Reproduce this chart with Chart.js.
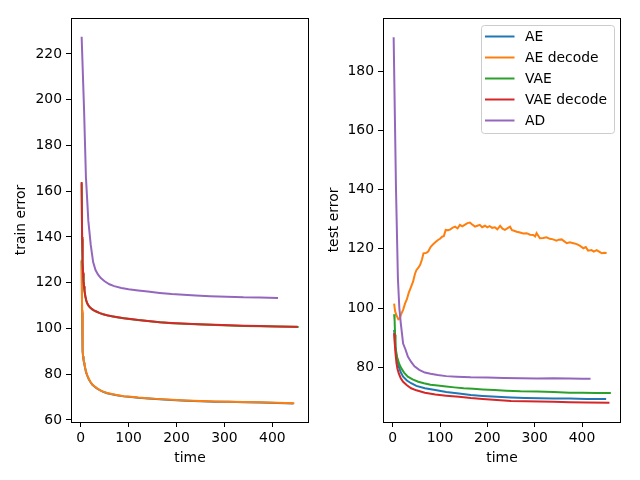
<!DOCTYPE html>
<html>
<head>
<meta charset="utf-8">
<script src="https://cdn.jsdelivr.net/npm/chart.js@4.4.1/dist/chart.umd.min.js"></script>
<style>
html,body{margin:0;padding:0;background:#fff;width:640px;height:480px;overflow:hidden}
canvas{position:absolute;left:0;top:0}
</style>
</head>
<body>
<canvas id="train" width="640" height="480"></canvas>
<canvas id="test" width="640" height="480"></canvas>
<script>
// ---------- labels / colours ----------
const seriesLabels = ['AE', 'AE decode', 'VAE', 'VAE decode', 'AD'];
const seriesColors = ['#1f77b4', '#ff7f0e', '#2ca02c', '#d62728', '#9467bd'];
const xTitle = 'time';
const trainTitle = 'train error';
const testTitle = 'test error';

// ---------- tick labels ----------
const trainTicksX = [0, 100, 200, 300, 400];
const trainTicksY = [60, 80, 100, 120, 140, 160, 180, 200, 220];
const testTicksX = [0, 100, 200, 300, 400];
const testTicksY = [80, 100, 120, 140, 160, 180];

// ---------- train (left panel) ----------
const trainAE_t   = [2, 3, 4, 5, 6, 7, 8, 10, 12, 14, 17, 20, 24, 28, 33, 40, 47, 55, 65, 75, 90, 105, 120, 140, 165, 190, 220, 250, 280, 310, 340, 374, 410, 444];
const trainAE     = [129.5, 107, 90, 87.7, 86.2, 85.0, 84.0, 82.0, 80.5, 79.3, 77.8, 76.7, 75.5, 74.7, 73.9, 73.0, 72.3, 71.7, 71.2, 70.8, 70.3, 70.0, 69.7, 69.4, 69.0, 68.7, 68.4, 68.2, 68.0, 67.9, 67.7, 67.6, 67.4, 67.2];
const trainAEdec_t = [2, 3, 4, 5, 6, 7, 8, 10, 12, 14, 17, 20, 24, 28, 33, 40, 47, 55, 65, 75, 90, 105, 120, 140, 165, 190, 220, 250, 280, 310, 340, 374, 410, 446];
const trainAEdec   = [130, 108, 90.5, 88, 86.5, 85.2, 84.2, 82.2, 80.6, 79.4, 77.9, 76.8, 75.6, 74.8, 74.0, 73.0, 72.4, 71.8, 71.3, 70.9, 70.4, 70.1, 69.8, 69.5, 69.1, 68.8, 68.5, 68.3, 68.1, 68.0, 67.8, 67.7, 67.5, 67.3];
const trainVAE_t  = [2, 3, 4, 5, 6, 7, 8, 10, 12, 14, 17, 20, 24, 28, 33, 40, 47, 55, 65, 75, 90, 105, 120, 140, 165, 190, 220, 250, 280, 310, 340, 374, 410, 455];
const trainVAE    = [163.5, 139, 128.5, 124, 120.7, 118.2, 116.3, 113.6, 111.9, 110.8, 109.7, 109.0, 108.3, 107.8, 107.3, 106.7, 106.2, 105.7, 105.3, 104.9, 104.5, 104.0, 103.7, 103.2, 102.7, 102.3, 102.0, 101.7, 101.5, 101.3, 101.1, 101.0, 100.8, 100.6];
const trainVAEdec_t = [2, 3, 4, 5, 6, 7, 8, 10, 12, 14, 17, 20, 24, 28, 33, 40, 47, 55, 65, 75, 90, 105, 120, 140, 165, 190, 220, 250, 280, 310, 340, 374, 410, 453];
const trainVAEdec   = [164, 140, 129, 124.5, 121, 118.5, 116.5, 113.8, 112, 110.9, 109.8, 109.1, 108.4, 107.9, 107.4, 106.7, 106.2, 105.8, 105.3, 105.0, 104.5, 104.1, 103.7, 103.3, 102.7, 102.4, 102.1, 101.8, 101.6, 101.4, 101.2, 101.1, 100.9, 100.7];
const trainAD_t   = [2, 7, 11, 16, 21, 26, 31, 36, 42, 50, 60, 70, 85, 100, 120, 140, 165, 190, 215, 240, 270, 305, 340, 374, 412];
const trainAD     = [227.5, 196, 166, 147, 136.5, 129, 125.5, 123.6, 122.0, 120.6, 119.3, 118.5, 117.7, 117.1, 116.6, 116.1, 115.5, 115.0, 114.7, 114.4, 114.1, 113.9, 113.6, 113.5, 113.3];

// ---------- test (right panel) ----------
const testAE_t  = [3, 4, 6, 8, 10, 13, 17, 22, 30, 39, 50, 68, 90, 113, 140, 165, 190, 220, 250, 280, 310, 340, 374, 410, 451];
const testAE    = [92.6, 90.9, 86.5, 84.0, 82.0, 80.1, 78.3, 76.8, 75.5, 74.6, 73.7, 72.9, 72.3, 71.6, 71.1, 70.6, 70.3, 70.0, 69.8, 69.6, 69.5, 69.4, 69.4, 69.3, 69.3];
const testAEdec_t = [3, 5, 8, 12, 15, 18, 22, 26, 30, 34, 38, 43, 47, 50, 55, 58, 62, 65, 70, 75, 80, 85, 90, 95, 100, 105, 108, 112, 117, 122, 127, 132, 137, 142, 147, 152, 158, 163, 168, 174, 179, 184, 189, 195, 200, 205, 210, 216, 221, 227, 232, 237, 242, 248, 252, 255, 262, 269, 276, 283, 290, 297, 301, 304, 311, 318, 325, 332, 339, 346, 351, 357, 362, 368, 374, 382, 389, 396, 403, 408, 413, 420, 425, 431, 437, 442, 447, 452];
const testAEdec   = [101.5, 99, 97.5, 96.2, 96.5, 98.0, 99.4, 101.5, 103, 105.2, 106.8, 108.9, 111.5, 112.8, 113.8, 114.6, 116.5, 118.5, 118.6, 119.1, 120.6, 121.5, 122.2, 122.9, 123.4, 124.2, 124.3, 126.4, 126.3, 126.6, 127.2, 127.5, 126.9, 128.1, 127.6, 128.1, 128.7, 128.9, 128.2, 127.5, 127.8, 128.1, 127.3, 127.8, 127.3, 127.7, 127.1, 127.3, 126.6, 127.8, 126.8, 126.4, 126.9, 127.5, 126.3, 126.2, 125.8, 125.5, 125.2, 125.3, 124.8, 124.7, 124.2, 125.3, 123.6, 123.7, 123.9, 123.4, 123.2, 122.8, 123.1, 123.2, 122.6, 121.9, 122.2, 121.9, 121.6, 121.0, 120.2, 120.6, 119.4, 119.6, 119.1, 119.6, 119.0, 118.5, 118.7, 118.6];
const testVAE_t = [3, 4, 5, 6, 8, 10, 14, 18, 24, 32, 42, 54, 66, 80, 95, 113, 130, 150, 170, 190, 215, 240, 270, 305, 340, 374, 400, 430, 461];
const testVAE   = [97.9, 96, 91, 87, 84.5, 83, 81, 79.7, 78.2, 76.8, 75.9, 75.1, 74.6, 74.1, 73.8, 73.5, 73.2, 72.9, 72.7, 72.5, 72.3, 72.1, 71.9, 71.8, 71.6, 71.4, 71.4, 71.3, 71.3];
const testVAEdec_t = [3, 4, 6, 8, 10, 13, 17, 22, 30, 39, 50, 68, 90, 113, 140, 165, 190, 220, 250, 280, 310, 340, 374, 410, 458];
const testVAEdec   = [91.5, 88.7, 84.5, 81.4, 79.5, 77.8, 76.3, 75.1, 73.9, 72.9, 72.2, 71.4, 70.8, 70.4, 70.0, 69.6, 69.3, 68.9, 68.6, 68.5, 68.4, 68.3, 68.2, 68.1, 68.0];
const testAD_t  = [2, 7, 11, 14, 17, 22, 27, 32, 39, 46, 56, 68, 80, 95, 113, 135, 165, 200, 235, 270, 305, 340, 374, 400, 418];
const testAD    = [191.5, 140, 110, 100, 95, 88, 86, 83.6, 81.8, 80.3, 79.1, 78.2, 77.8, 77.4, 77.0, 76.8, 76.6, 76.5, 76.4, 76.3, 76.2, 76.3, 76.2, 76.1, 76.1];

// ---------- helpers ----------
const FONT = 'DejaVu Sans';
function pts(t, v) { return t.map((x, i) => ({x: x, y: v[i]})); }
function makeDatasets(list) {
  return list.map((s, i) => ({
    label: seriesLabels[i],
    data: pts(s[0], s[1]),
    borderColor: seriesColors[i],
    backgroundColor: seriesColors[i],
    borderWidth: 2,
    pointRadius: 0,
    tension: 0,
    fill: false,
    order: list.length - i
  }));
}

const framePlugin = {
  id: 'frame',
  afterDatasetsDraw(chart) {
    const {ctx, chartArea: a} = chart;
    ctx.save();
    ctx.strokeStyle = '#000';
    ctx.lineWidth = 1;
    ctx.strokeRect(Math.round(a.left) + 0.5, Math.round(a.top) + 0.5,
                   Math.round(a.right - a.left) - 1, Math.round(a.bottom - a.top));
    ctx.restore();
  }
};

const legendPlugin = {
  id: 'mplLegend',
  afterDraw(chart, args, opts) {
    if (!opts || !opts.show) return;
    const ctx = chart.ctx;
    const a = chart.chartArea;
    const n = chart.data.datasets.length;
    const rowH = 21, w = 133, h = 108;
    const x0 = a.right - 6.5 - w, y0 = a.top + 7.5;
    ctx.save();
    // frame
    const r = 3;
    ctx.beginPath();
    ctx.moveTo(x0 + r, y0);
    ctx.lineTo(x0 + w - r, y0); ctx.quadraticCurveTo(x0 + w, y0, x0 + w, y0 + r);
    ctx.lineTo(x0 + w, y0 + h - r); ctx.quadraticCurveTo(x0 + w, y0 + h, x0 + w - r, y0 + h);
    ctx.lineTo(x0 + r, y0 + h); ctx.quadraticCurveTo(x0, y0 + h, x0, y0 + h - r);
    ctx.lineTo(x0, y0 + r); ctx.quadraticCurveTo(x0, y0, x0 + r, y0);
    ctx.closePath();
    ctx.fillStyle = 'rgba(255,255,255,0.8)';
    ctx.fill();
    ctx.strokeStyle = '#cccccc';
    ctx.lineWidth = 1;
    ctx.stroke();
    ctx.font = '13.9px "' + FONT + '"';
    ctx.textBaseline = 'middle';
    ctx.textAlign = 'left';
    for (let i = 0; i < n; i++) {
      const ds = chart.data.datasets[i];
      const yy = y0 + 11 + rowH * i;
      ctx.strokeStyle = ds.borderColor;
      ctx.lineWidth = 2;
      ctx.beginPath();
      ctx.moveTo(x0 + 3.5, yy);
      ctx.lineTo(x0 + 33, yy);
      ctx.stroke();
      ctx.fillStyle = '#000';
      ctx.fillText(ds.label, x0 + 43.5, yy + 1);
    }
    ctx.restore();
  }
};

function makeChart(id, datasets, cfg) {
  return new Chart(document.getElementById(id), {
    type: 'line',
    data: {datasets: datasets},
    plugins: [framePlugin, legendPlugin],
    options: {
      responsive: false,
      animation: false,
      devicePixelRatio: 1,
      layout: {padding: cfg.padding},
      plugins: {
        legend: {display: false},
        tooltip: {enabled: false},
        mplLegend: {show: cfg.legend}
      },
      scales: {
        x: {
          type: 'linear',
          min: cfg.xmin, max: cfg.xmax,
          afterBuildTicks: s => { s.ticks = cfg.xticks.map(v => ({value: v})); },
          afterFit: s => { s.height = 58; },
          border: {display: false},
          grid: {drawOnChartArea: false, drawTicks: true, tickLength: 5, tickColor: '#000', color: '#000', lineWidth: 1},
          ticks: {color: '#000', padding: 3, maxRotation: 0, autoSkip: false,
                  font: {family: FONT, size: 13.9}},
          title: {display: true, text: xTitle, color: '#000', padding: {top: 0, bottom: 13},
                  font: {family: FONT, size: 13.9}}
        },
        y: {
          type: 'linear',
          min: cfg.ymin, max: cfg.ymax,
          afterBuildTicks: s => { s.ticks = cfg.yticks.map(v => ({value: v})); },
          afterFit: s => { s.width = cfg.yWidth; },
          border: {display: false},
          grid: {drawOnChartArea: false, drawTicks: true, tickLength: 5, tickColor: '#000', color: '#000', lineWidth: 1},
          ticks: {color: '#000', padding: 4, autoSkip: false,
                  font: {family: FONT, size: 13.9}},
          title: {display: true, text: cfg.yTitle, color: '#000', padding: {top: cfg.titlePad, bottom: 0},
                  font: {family: FONT, size: 13.9}}
        }
      }
    }
  });
}

makeChart('train', makeDatasets([
  [trainAE_t, trainAE], [trainAEdec_t, trainAEdec], [trainVAE_t, trainVAE],
  [trainVAEdec_t, trainVAEdec], [trainAD_t, trainAD]
]), {
  padding: {left: 0, right: 331, top: 18, bottom: 0},
  yWidth: 71, titlePad: 13, yTitle: trainTitle,
  xmin: -20.2, xmax: 476.6, ymin: 59.1, ymax: 235.7,
  xticks: trainTicksX, yticks: trainTicksY, legend: false
});

makeChart('test', makeDatasets([
  [testAE_t, testAE], [testAEdec_t, testAEdec], [testVAE_t, testVAE],
  [testVAEdec_t, testVAEdec], [testAD_t, testAD]
]), {
  padding: {left: 323, right: 19, top: 18, bottom: 0},
  yWidth: 60, titlePad: 3, yTitle: testTitle,
  xmin: -20.5, xmax: 482.4, ymin: 61.5, ymax: 198.0,
  xticks: testTicksX, yticks: testTicksY, legend: true
});
</script>
</body>
</html>
